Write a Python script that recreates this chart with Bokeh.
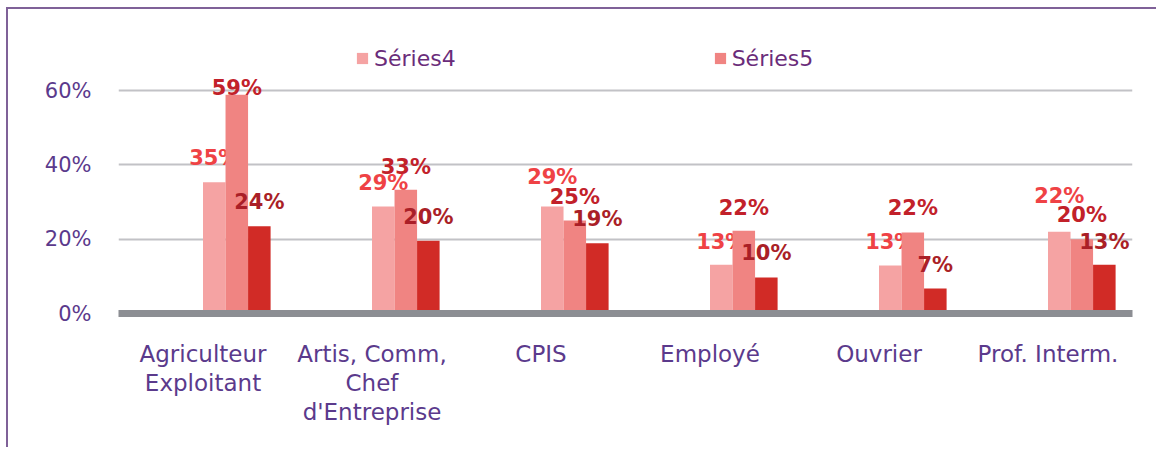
from bokeh.plotting import figure
from bokeh.models import ColumnDataSource, FactorRange, Range1d, FixedTicker, NumeralTickFormatter, Legend, LegendItem
from bokeh.transform import dodge
from bokeh.core.properties import value
from bokeh.embed import file_html
from bokeh.resources import INLINE

# ---- data ----
categories = ["Agriculteur\nExploitant", "Artis, Comm,\nChef\nd'Entreprise", "CPIS",
              "Employé", "Ouvrier", "Prof. Interm."]
series4 = [0.353, 0.288, 0.288, 0.131, 0.129, 0.220]
series5 = [0.589, 0.333, 0.250, 0.223, 0.218, 0.200]
series6 = [0.235, 0.196, 0.189, 0.097, 0.067, 0.131]
y_ticks = [0, 0.2, 0.4, 0.6]
legend_names = ["Séries4", "Séries5"]

# label vertical offsets (pixels above bar top, baseline)
label_dy4 = [16, 16, 22, 15, 16, 28]
label_dy5 = [-1, 15, 16, 15, 17, 16]
label_dy6 = [16, 16, 16, 16, 16, 15]

FONT = "DejaVu Sans"
PURPLE = "#5B3A8C"
BASE_SHIFT = 8  # renderer baseline correction (px)

def pct(vs):
    return [f"{round(v * 100)}%" for v in vs]

src = ColumnDataSource(dict(
    cat=categories,
    s4=series4, s5=series5, s6=series6,
    l4=pct(series4), l5=pct(series5), l6=pct(series6),
    d4=[-(d + BASE_SHIFT) for d in label_dy4],
    d5=[-(d + BASE_SHIFT) for d in label_dy5],
    d6=[-(d + BASE_SHIFT) for d in label_dy6],
))

W, H = 1150, 440
p = figure(width=W, height=H, output_backend="svg", toolbar_location=None,
           x_range=FactorRange(factors=categories, range_padding=0),
           y_range=Range1d(0, 0.786),
           min_border_left=110, min_border_right=W - 1124, min_border_top=12,
           min_border_bottom=H - 304)
p.background_fill_color = "white"
p.border_fill_color = "white"
p.outline_line_color = None
p.styles = {"border-top": "2px solid #7F6198", "border-left": "2px solid #7F6198",
            "margin-left": "6px", "margin-top": "7px"}

# six series slots per cluster (Séries1..3 empty), 0.8 of slot width
n_slots = 6
bw = 0.8 / n_slots
def off(i):
    return -0.4 + (i + 0.5) * bw

cols = [("s4", "l4", "d4", 3, "#F5A3A3", "#EF4245"),
        ("s5", "l5", "d5", 4, "#F08482", "#C2212A"),
        ("s6", "l6", "d6", 5, "#D12B26", "#AA1F27")]
renderers = []
for top, lab, dy, slot, fill, tcol in cols:
    r = p.vbar(x=dodge("cat", off(slot), range=p.x_range), top=top, width=bw,
               source=src, fill_color=fill, line_color=None)
    renderers.append(r)
    p.text(x=dodge("cat", off(slot), range=p.x_range), y=top, text=lab, y_offset=dy,
           source=src, text_align="center", text_baseline="alphabetic",
           text_font=value(FONT), text_font_style="bold", text_font_size="21px",
           text_color=tcol)

legend = Legend(items=[LegendItem(label=legend_names[0], renderers=[renderers[0]]),
                       LegendItem(label=legend_names[1], renderers=[renderers[1]])],
                orientation="horizontal", location=(237, 242))
legend.margin = 0
legend.padding = 0
legend.spacing = 257
legend.glyph_width = 14
legend.glyph_height = 14
legend.label_standoff = 5
legend.label_height = 26
legend.label_text_font = FONT
legend.label_text_font_size = "22px"
legend.label_text_color = "#6A2C7A"
legend.background_fill_alpha = 0
legend.border_line_color = None
p.add_layout(legend, "center")

# grid
p.xgrid.grid_line_color = None
p.ygrid.ticker = FixedTicker(ticks=y_ticks)
p.ygrid.grid_line_color = "#C2C2C6"
p.ygrid.grid_line_width = 2

# y axis
p.yaxis.ticker = FixedTicker(ticks=y_ticks)
p.yaxis.formatter = NumeralTickFormatter(format="0%")
p.yaxis.axis_line_color = None
p.yaxis.major_tick_line_color = None
p.yaxis.minor_tick_line_color = None
p.yaxis.major_label_standoff = 21
p.yaxis.major_label_text_font = FONT
p.yaxis.major_label_text_font_size = "21px"
p.yaxis.major_label_text_color = PURPLE

# x axis
p.xaxis.axis_line_color = "#8C8E93"
p.xaxis.axis_line_width = 7
p.xaxis.major_tick_line_color = None
p.xaxis.minor_tick_line_color = None
p.xaxis.major_label_standoff = 21
p.xaxis.major_label_text_font = FONT
p.xaxis.major_label_text_font_size = "23px"
p.xaxis.major_label_text_color = PURPLE
p.xaxis.major_label_text_line_height = 1.12

open("out.html", "w").write(file_html(p, INLINE))
